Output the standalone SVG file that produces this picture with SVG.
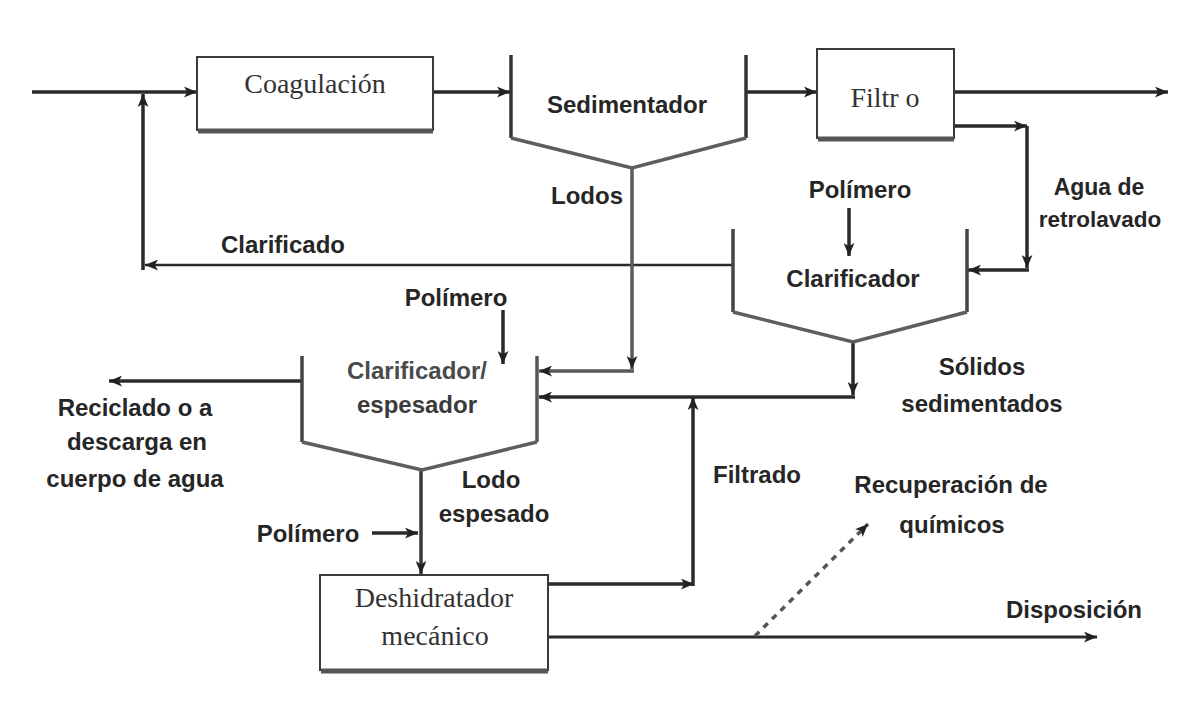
<svg xmlns="http://www.w3.org/2000/svg" width="1182" height="713" viewBox="0 0 1182 713">
<defs>
<style>
.lb{font-family:"Liberation Sans",Arial,sans-serif;font-weight:bold;font-size:24px;fill:#262626;text-anchor:middle}
.bx{font-family:"Liberation Serif","Times New Roman",serif;font-size:28px;fill:#333;text-anchor:middle}
.box{fill:#fff;stroke:#3a3a3a;stroke-width:2}
.shadow{stroke:#555;stroke-width:5;fill:none}
.wall{fill:none;stroke:#333;stroke-width:3.5}
.vb{fill:none;stroke:#5e5e5e;stroke-width:3.5}
.ln{fill:none;stroke:#2a2a2a;stroke-width:3.5}
.lg{fill:none;stroke:#5a5a5a;stroke-width:3.5}
.ar{marker-end:url(#ah)}
</style>
<marker id="ah" viewBox="0 0 12 10" refX="12" refY="5" markerWidth="13" markerHeight="11" markerUnits="userSpaceOnUse" orient="auto">
<path d="M0,0 L12,5 L0,10 L3,5 z" fill="#222"/>
</marker>
</defs>
<rect width="1182" height="713" fill="#fff"/>

<g id="connectors">
<path class="ln ar" d="M32,92 H197"/>
<path class="ln ar" d="M433,92 H510"/>
<path class="ln ar" d="M746,92 H817"/>
<path class="ln ar" d="M954,92 H1168"/>
<path class="ln ar" d="M954,126 H1027"/>
<path class="ln ar" d="M1027,126 V268"/>
<path class="ln ar" d="M1029,270 H968"/>
<path class="ln ar" d="M733,265 H145" style="stroke-width:2.5"/>
<path class="ln ar" d="M143,270 V94"/>
<path class="lg ar" d="M632,168 V369"/>
<path class="lg ar" d="M634,371 H539"/>
<path class="ln ar" d="M853,342 V395"/>
<path class="ln ar" d="M855,397 H539"/>
<path class="ln ar" d="M548,584 H694"/>
<path class="ln ar" d="M693,586 V397"/>
<path class="ln ar" d="M849,208 V256"/>
<path class="ln ar" d="M503,310 V364"/>
<path class="ln ar" d="M302,381 H109"/>
<path class="lg ar" d="M421,470 V574" style="stroke:#3a3a3a"/>
<path class="ln ar" d="M372,533 H418"/>
<path class="ln ar" d="M548,637 H1097" style="stroke-width:3"/>
<path class="ln ar" d="M755,636 L868,524" style="stroke:#555;stroke-dasharray:6,6"/>
</g>

<g id="coagulacion">
<rect class="box" x="197" y="57" width="236" height="73"/>
<path class="shadow" d="M198,131 H433"/>
<text class="bx" x="315" y="93">Coagulación</text>
</g>

<g id="sedimentador">
<path class="wall" d="M511,55 V138"/>
<path class="wall" d="M746,55 V138"/>
<path class="vb" d="M511,138 L632,168 L746,138"/>
<text class="lb" x="627" y="113">Sedimentador</text>
</g>

<g id="filtro">
<rect class="box" x="817" y="49" width="137" height="89"/>
<path class="shadow" d="M818,139 H954"/>
<text class="bx" x="885" y="107">Filtr o</text>
</g>

<g id="clarificador">
<path class="wall" d="M733,229 V312" style="stroke:#444"/>
<path class="wall" d="M967,229 V312" style="stroke:#444"/>
<path class="vb" d="M733,312 L853,342 L967,312"/>
<text class="lb" x="853" y="287">Clarificador</text>
</g>

<g id="espesador">
<path class="wall" d="M302,356 V442" style="stroke:#444"/>
<path class="wall" d="M537,356 V442" style="stroke:#555"/>
<path class="vb" d="M302,442 L422,470 L537,442"/>
<text class="lb" x="417" y="379" style="fill:#4a4a4a">Clarificador/</text>
<text class="lb" x="417" y="413" style="fill:#3a3a3a">espesador</text>
</g>

<g id="deshidratador">
<rect class="box" x="320" y="575" width="228" height="95"/>
<path class="shadow" d="M321,671 H548"/>
<text class="bx" x="434" y="607">Deshidratador</text>
<text class="bx" x="435" y="645">mecánico</text>
</g>

<g id="labels">
<text class="lb" x="587" y="204">Lodos</text>
<text class="lb" x="283" y="253">Clarificado</text>
<text class="lb" x="860" y="198">Polímero</text>
<text class="lb" x="1099" y="195" style="font-size:23px">Agua de</text>
<text class="lb" x="1100" y="227" style="font-size:22.5px">retrolavado</text>
<text class="lb" x="456" y="306">Polímero</text>
<text class="lb" x="982" y="375">Sólidos</text>
<text class="lb" x="982" y="412">sedimentados</text>
<text class="lb" x="135" y="416">Reciclado o a</text>
<text class="lb" x="137" y="450">descarga en</text>
<text class="lb" x="135" y="487">cuerpo de agua</text>
<text class="lb" x="757" y="483">Filtrado</text>
<text class="lb" x="491" y="488">Lodo</text>
<text class="lb" x="494" y="522">espesado</text>
<text class="lb" x="951" y="493">Recuperación de</text>
<text class="lb" x="952" y="533">químicos</text>
<text class="lb" x="308" y="542">Polímero</text>
<text class="lb" x="1074" y="618">Disposición</text>
</g>
</svg>
